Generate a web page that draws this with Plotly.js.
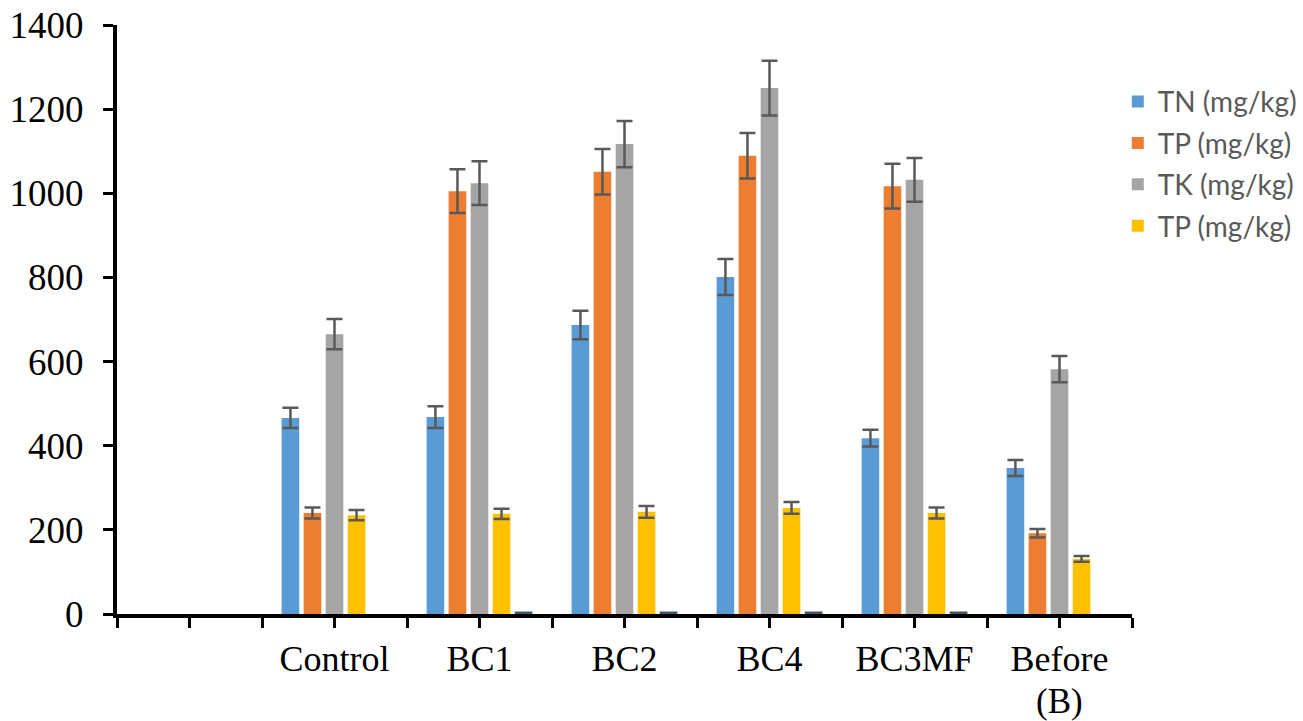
<!DOCTYPE html>
<html>
<head>
<meta charset="utf-8">
<script src="https://cdn.plot.ly/plotly-3.0.1.min.js"></script>
<style>html,body{margin:0;padding:0;background:#fff;}#chart{width:1303px;height:721px;}</style>
</head>
<body>
<div id="chart"></div>
<script>
var categories = ["", "Control", "BC1", "BC2", "BC4", "BC3MF", "Before"];
var panelLabel = "(B)";
var seriesNames = ["TN (mg/kg)", "TP (mg/kg)", "TK (mg/kg)", "TP (mg/kg)", ""];
var tnValues = [null, 466, 468, 687, 801, 418, 347];
var tnErrors = [null, 24, 26, 34, 43, 20, 19];
var tpValues = [null, 240, 1005, 1051, 1089, 1017, 192];
var tpErrors = [null, 13, 52, 54, 54, 53, 10];
var tkValues = [null, 665, 1024, 1117, 1250, 1032, 582];
var tkErrors = [null, 36, 52, 55, 65, 52, 31];
var tp2Values = [null, 235, 238, 243, 252, 240, 131];
var tp2Errors = [null, 12, 12, 14, 14, 13, 7];
var extraValues = [null, null, 6, 6, 6, 6, null];
var yTicks = [0, 200, 400, 600, 800, 1000, 1200, 1400];

var colors = ["#5B9BD5", "#ED7D31", "#A5A5A5", "#FFC000", "#44546A"];
var xIdx = categories.map(function(c, i){ return i; });

function mk(name, vals, errs, color, showLeg, grp) {
  var t = {
    type: "bar", name: name, x: xIdx, y: vals,
    marker: {color: color, line: {width: 0}},
    showlegend: showLeg, legendgroup: grp
  };
  if (errs) {
    t.error_y = {type: "data", array: errs, visible: true, color: "#595959", thickness: 2.5, width: 8};
  }
  return t;
}

var data = [
  mk(seriesNames[0], tnValues, tnErrors, colors[0], true, "g0"),
  mk(seriesNames[1], tpValues, tpErrors, colors[1], true, "g1"),
  mk(seriesNames[2], tkValues, tkErrors, colors[2], true, "g2"),
  mk(seriesNames[3], tp2Values, tp2Errors, colors[3], true, "g3"),
  mk(seriesNames[4], extraValues, null, colors[4], false, "g4")
];

var tickVals = [], tickText = [];
for (var i = 0; i < categories.length; i++) {
  tickVals.push(i - 0.5); tickText.push("");
  tickVals.push(i); tickText.push(categories[i]);
}
tickVals.push(categories.length - 0.5); tickText.push("");

var layout = {
  width: 1303, height: 721,
  margin: {l: 117, r: 171, t: 25, b: 107, pad: 0, autoexpand: false},
  paper_bgcolor: "#fff", plot_bgcolor: "#fff",
  barmode: "group", bargap: 0.24, bargroupgap: 0.2,
  font: {family: "Liberation Serif, Times New Roman, serif", color: "#000"},
  xaxis: {
    range: [-0.5, categories.length - 0.5],
    tickmode: "array", tickvals: tickVals, ticktext: tickText,
    ticks: "outside", ticklen: 10, tickwidth: 3, tickcolor: "#000",
    showline: true, linecolor: "#000", linewidth: 4,
    showgrid: false, zeroline: false, automargin: false,
    tickfont: {size: 36, family: "Liberation Serif, serif", color: "#000"}
  },
  yaxis: {
    range: [0, 1400],
    tickmode: "array", tickvals: yTicks, ticktext: yTicks.map(String),
    ticks: "outside", ticklen: 10, tickwidth: 3, tickcolor: "#000",
    showline: true, linecolor: "#000", linewidth: 4,
    showgrid: false, zeroline: false, automargin: false,
    ticklabelstandoff: 12,
    tickfont: {size: 37, family: "Liberation Serif, serif", color: "#000"}
  },
  legend: {
    x: 0.986, xanchor: "left", y: 0.912, yanchor: "top",
    xref: "paper", yref: "paper", traceorder: "grouped",
    font: {family: "Lato, Open Sans, sans-serif", size: 28, color: "#595959"},
    bgcolor: "rgba(0,0,0,0)", itemwidth: 30, tracegroupgap: 2
  },
  annotations: [{
    text: panelLabel, xref: "x", yref: "paper", x: categories.length - 1,
    y: -0.149, yanchor: "middle", xanchor: "center", showarrow: false,
    font: {size: 35, family: "Liberation Serif, serif", color: "#000"}
  }]
};

Plotly.newPlot("chart", data, layout, {displayModeBar: false, staticPlot: true});
</script>
</body>
</html>
